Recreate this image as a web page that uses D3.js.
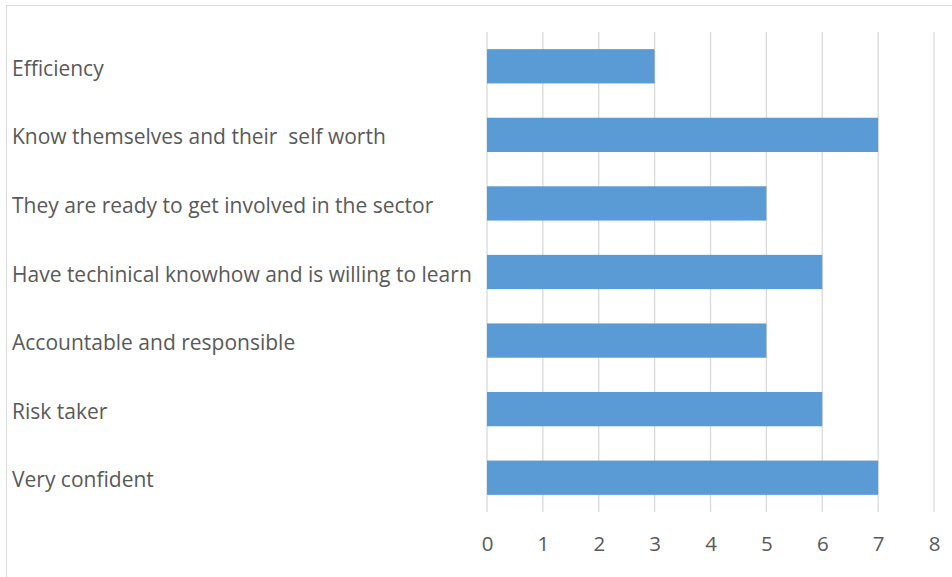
<!DOCTYPE html>
<html>
<head>
<meta charset="utf-8">
<script src="https://cdn.jsdelivr.net/npm/d3@7"></script>
<style>
  body { margin: 0; background: #fff; }
  svg text { font-family: "Open Sans", "Noto Sans", sans-serif; }
</style>
</head>
<body>
<div id="mainDiv"></div>
<script>
'use strict';

var categories = [
    "Efficiency",
    "Know themselves and their  self worth",
    "They are ready to get involved in the sector",
    "Have techinical knowhow and is willing to learn",
    "Accountable and responsible",
    "Risk taker",
    "Very confident"
];
var values = [3, 7, 5, 6, 5, 6, 7];
var tickValues = [0, 1, 2, 3, 4, 5, 6, 7, 8];

var chart = { width: 952, height: 577, left: 487, right: 934, top: 32, bottom: 512 };

var svg = d3.select("#mainDiv").append("svg")
    .attr("width", chart.width)
    .attr("height", chart.height);

// chart frame
svg.append("rect")
    .attr("x", 6.5).attr("y", 5.5)
    .attr("width", 960).attr("height", 600)
    .attr("fill", "none")
    .attr("stroke", "#d9d9d9");

var x = d3.scaleLinear().domain([0, 8]).range([chart.left, chart.right]);
var y = d3.scaleBand().domain(categories).range([chart.top, chart.bottom]).paddingInner(0.5).paddingOuter(0.25);

// gridlines
svg.append("g").selectAll("line")
    .data(tickValues)
    .enter()
    .append("line")
        .attr("x1", function(d) { return x(d); })
        .attr("x2", function(d) { return x(d); })
        .attr("y1", chart.top)
        .attr("y2", chart.bottom)
        .attr("stroke", "#d9d9d9")
        .attr("stroke-width", 1.3);

svg.append("g").selectAll("rect")
    .data(values)
    .enter()
    .append("rect")
        .attr("x", x(0))
        .attr("y", function(d, i) { return y(categories[i]); })
        .attr("width", function(d) { return x(d) - x(0); })
        .attr("height", y.bandwidth())
        .attr("fill", "#5b9bd5");

// category labels
svg.append("g").selectAll("text")
    .data(categories)
    .enter()
    .append("text")
        .text(function(d) { return d; })
        .attr("x", 12)
        .attr("y", function(d) { return y(d) + y.bandwidth() / 2 + 9.5; })
        .attr("font-size", "21px")
        .attr("fill", "#595959")
        .style("white-space", "pre");

// x axis labels
var xAxis = d3.axisBottom(x).tickValues(tickValues).tickSize(0).tickPadding(24);
var gx = svg.append("g")
    .attr("transform", "translate(0," + chart.bottom + ")")
    .call(xAxis);
gx.select(".domain").remove();
gx.selectAll("text")
    .attr("font-size", "20.5px")
    .attr("font-family", "\"Open Sans\", sans-serif")
    .attr("fill", "#595959");
</script>
</body>
</html>
